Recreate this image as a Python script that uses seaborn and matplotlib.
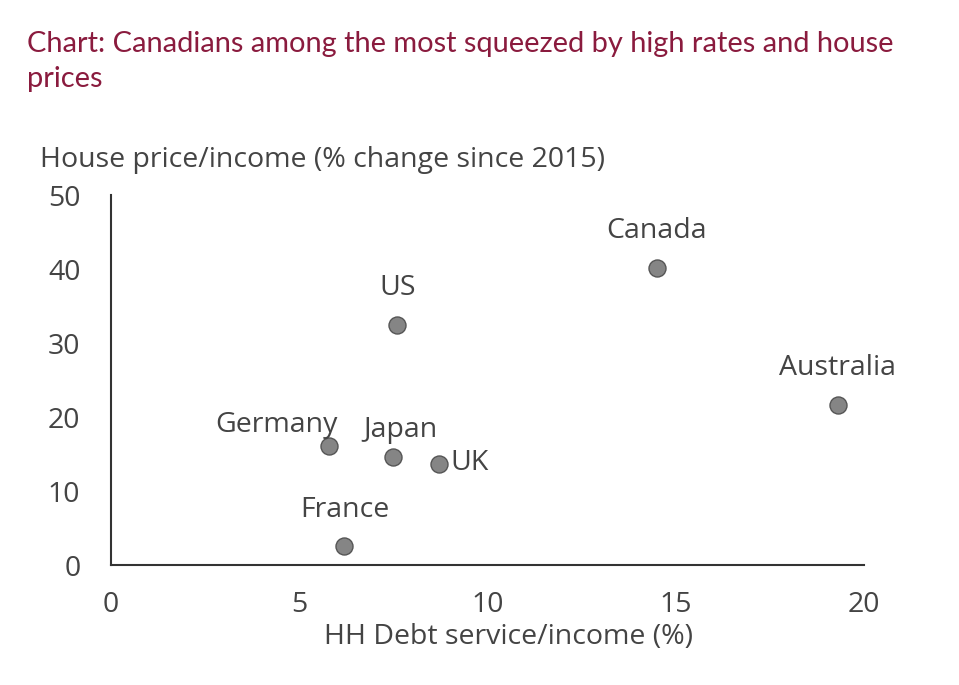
import matplotlib
matplotlib.use("Agg")
import matplotlib.pyplot as plt
import seaborn as sns
import pandas as pd

countries = ["Canada", "US", "Australia", "Germany", "Japan", "UK", "France"]
debt_service = [14.5, 7.6, 19.3, 5.8, 7.5, 8.7, 6.2]
house_price = [40.1, 32.4, 21.6, 16.1, 14.6, 13.6, 2.6]
x_ticks = [0, 5, 10, 15, 20]
y_ticks = [0, 10, 20, 30, 40, 50]

df = pd.DataFrame({"country": countries, "x": debt_service, "y": house_price})

sns.set_theme(style="white")
plt.rcParams["font.family"] = ["Open Sans", "DejaVu Sans"]
txt = "#444444"
fs = 20.5

fig = plt.figure(figsize=(9.59, 6.85), dpi=100)
ax = fig.add_axes([111/959, 1-565/685, (864-111)/959, (565-195)/685])

sns.scatterplot(data=df, x="x", y="y", ax=ax, s=150, color="#858585",
                edgecolor="#555555", linewidth=1.0, zorder=3)

offsets = {
    "Canada": (0, 37, "center"),
    "US": (0, 37, "center"),
    "Australia": (0, 37, "center"),
    "Germany": (-53, 21, "center"),
    "Japan": (7, 27, "center"),
    "UK": (12, 1, "left"),
    "France": (0, 36, "center"),
}
for c, xv, yv in zip(countries, debt_service, house_price):
    dx, dy, ha = offsets[c]
    ax.annotate(c, (xv, yv), xytext=(dx, dy), textcoords="offset pixels",
                ha=ha, va="center", fontsize=fs, color=txt)

ax.set_xlim(0, 20)
ax.set_ylim(0, 50)
ax.set_xticks(x_ticks)
ax.set_yticks(y_ticks)
ax.set_xlabel("")
ax.set_ylabel("")
for s in ["top", "right"]:
    ax.spines[s].set_visible(False)
for s in ["left", "bottom"]:
    ax.spines[s].set_color("#333333")
    ax.spines[s].set_linewidth(1.5)
ax.tick_params(axis="both", which="both", direction="out", length=8, width=1.5,
               color="#333333", labelsize=fs, labelcolor=txt)
ax.tick_params(axis="x", pad=11)
ax.tick_params(axis="y", pad=14)

fig.text(27/959, 1-31/685, "Chart: Canadians among the most squeezed by high rates and house\nprices",
         ha="left", va="top", fontsize=20.85, color="#8a1b3e", linespacing=1.42,
         family=["Lato", "DejaVu Sans"])
fig.text(40/959, 1-160/685, "House price/income (% change since 2015)", ha="left", va="center",
         fontsize=fs, color=txt)
fig.text(509/959, 1-637/685, "HH Debt service/income (%)", ha="center", va="center",
         fontsize=fs, color=txt)

fig.savefig("out.png", dpi=100)
